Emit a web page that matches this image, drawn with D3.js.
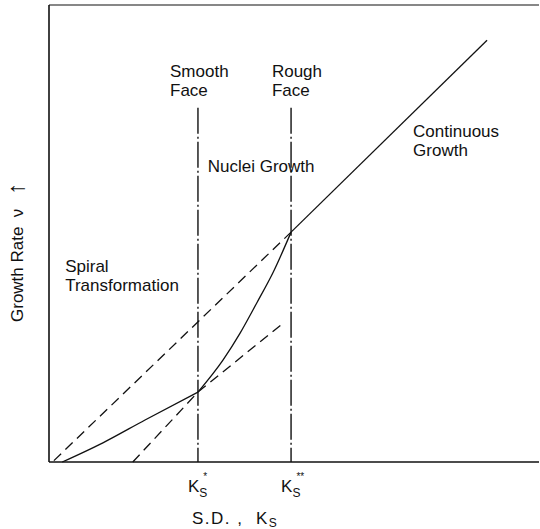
<!DOCTYPE html>
<html>
<head>
<meta charset="utf-8">
<script src="https://cdn.jsdelivr.net/npm/d3@7"></script>
<style>
  body { margin: 0; background: #fff; }
  svg text { font-family: "Liberation Sans", Arial, Helvetica, sans-serif; fill: #111; }
</style>
</head>
<body>
<div id="chart"></div>
<script>
// growth regimes vs supersaturation (arbitrary units)
const faceNames = ["Smooth", "Rough"];
const faceX = [3.04, 4.94];          // Ks*, Ks**
const faceStars = ["*", "**"];
const faceTop = 7.75;

const spiralX = [0.27, 1.1, 1.96, 3.04];
const spiralY = [0, 0.42, 0.92, 1.53];
const nucleiX = [3.04, 3.55, 3.9, 4.24, 4.57, 4.94];
const nucleiY = [1.53, 2.23, 2.82, 3.48, 4.14, 5.03];
const continuousX = [4.94, 8.94];
const continuousY = [5.03, 9.23];

// dashed extrapolations
const contExtX = [0.1, 4.94];
const contExtY = [0.03, 5.03];
const nucleiExtX = [1.71, 3.04];
const nucleiExtY = [0, 1.53];
const spiralExtX = [3.04, 4.78];
const spiralExtY = [1.53, 3.04];

const width = 540, height = 529;

const x = d3.scaleLinear().domain([0, 10]).range([49, 539]);
const y = d3.scaleLinear().domain([0, 10]).range([462, 5]);

const svg = d3.select("#chart").append("svg")
  .attr("width", width)
  .attr("height", height);

const zip = (xs, ys) => xs.map((v, i) => [v, ys[i]]);
const line = d3.line().x(d => x(d[0])).y(d => y(d[1]));
const curve = d3.line().x(d => x(d[0])).y(d => y(d[1])).curve(d3.curveMonotoneX);

// frame: left, bottom, top
const frame = svg.append("g").attr("stroke", "#111").attr("stroke-width", 1.6);
frame.append("line").attr("x1", x(0)).attr("x2", x(0)).attr("y1", y(0)).attr("y2", y(10));
frame.append("line").attr("x1", x(0)).attr("x2", x(10)).attr("y1", y(0)).attr("y2", y(0));
frame.append("line").attr("x1", x(0)).attr("x2", x(10)).attr("y1", y(10)).attr("y2", y(10)).attr("stroke-width", 1.2);

// face boundaries (dash-dot)
svg.selectAll(".face")
  .data(faceX)
  .join("line")
  .attr("class", "face")
  .attr("x1", d => x(d)).attr("x2", d => x(d))
  .attr("y1", y(faceTop)).attr("y2", y(0))
  .attr("stroke", "#111")
  .attr("stroke-width", 1.4)
  .attr("stroke-dasharray", "26,3,2,3");

// dashed extrapolations
svg.selectAll(".ext")
  .data([zip(contExtX, contExtY), zip(nucleiExtX, nucleiExtY), zip(spiralExtX, spiralExtY)])
  .join("path")
  .attr("class", "ext")
  .attr("d", line)
  .attr("fill", "none")
  .attr("stroke", "#111")
  .attr("stroke-width", 1.3)
  .attr("stroke-dasharray", "10,6");

// solid growth curve
[zip(spiralX, spiralY), zip(nucleiX, nucleiY), zip(continuousX, continuousY)].forEach(pts => {
  svg.append("path")
    .attr("d", curve(pts))
    .attr("fill", "none")
    .attr("stroke", "#111")
    .attr("stroke-width", 1.3);
});

// region labels
const labels = [
  { lines: [faceNames[0], "Face"], x: 2.47, y: 8.42 },
  { lines: [faceNames[1], "Face"], x: 4.55, y: 8.42 },
  { lines: ["Nuclei Growth"], x: 3.24, y: 6.35 },
  { lines: ["Continuous", "Growth"], x: 7.43, y: 7.11 },
  { lines: ["Spiral", "Transformation"], x: 0.33, y: 4.16 }
];

labels.forEach(l => {
  const t = svg.append("text")
    .attr("x", x(l.x))
    .attr("y", y(l.y))
    .attr("font-size", 17);
  l.lines.forEach((s, i) => {
    t.append("tspan")
      .attr("x", x(l.x))
      .attr("dy", i === 0 ? 0 : 19)
      .text(s);
  });
});

// Ks tick labels
faceX.forEach((v, i) => {
  const t = svg.append("text")
    .attr("x", x(v) - 10)
    .attr("y", 492)
    .attr("font-size", 17);
  t.append("tspan").text("K");
  t.append("tspan").attr("font-size", 12).attr("dy", 5).text("S");
  t.append("tspan").attr("font-size", 10).attr("dy", -17).attr("dx", -4).text(faceStars[i]);
});

// x title
const xt = svg.append("text")
  .attr("x", 192)
  .attr("y", 524)
  .attr("font-size", 17)
  .attr("letter-spacing", 1.5)
  .style("white-space", "pre");
xt.append("tspan").text("S.D. ,  K");
xt.append("tspan").attr("font-size", 12).attr("dy", 3).text("S");

// y title
const yt = svg.append("text")
  .attr("transform", "translate(23," + 322 + ") rotate(-90)")
  .attr("font-size", 17)
  .style("white-space", "pre");
yt.append("tspan").text("Growth Rate  \u03bd   ");
yt.append("tspan").attr("font-size", 24).attr("dy", 1).text("\u2191");
</script>
</body>
</html>
